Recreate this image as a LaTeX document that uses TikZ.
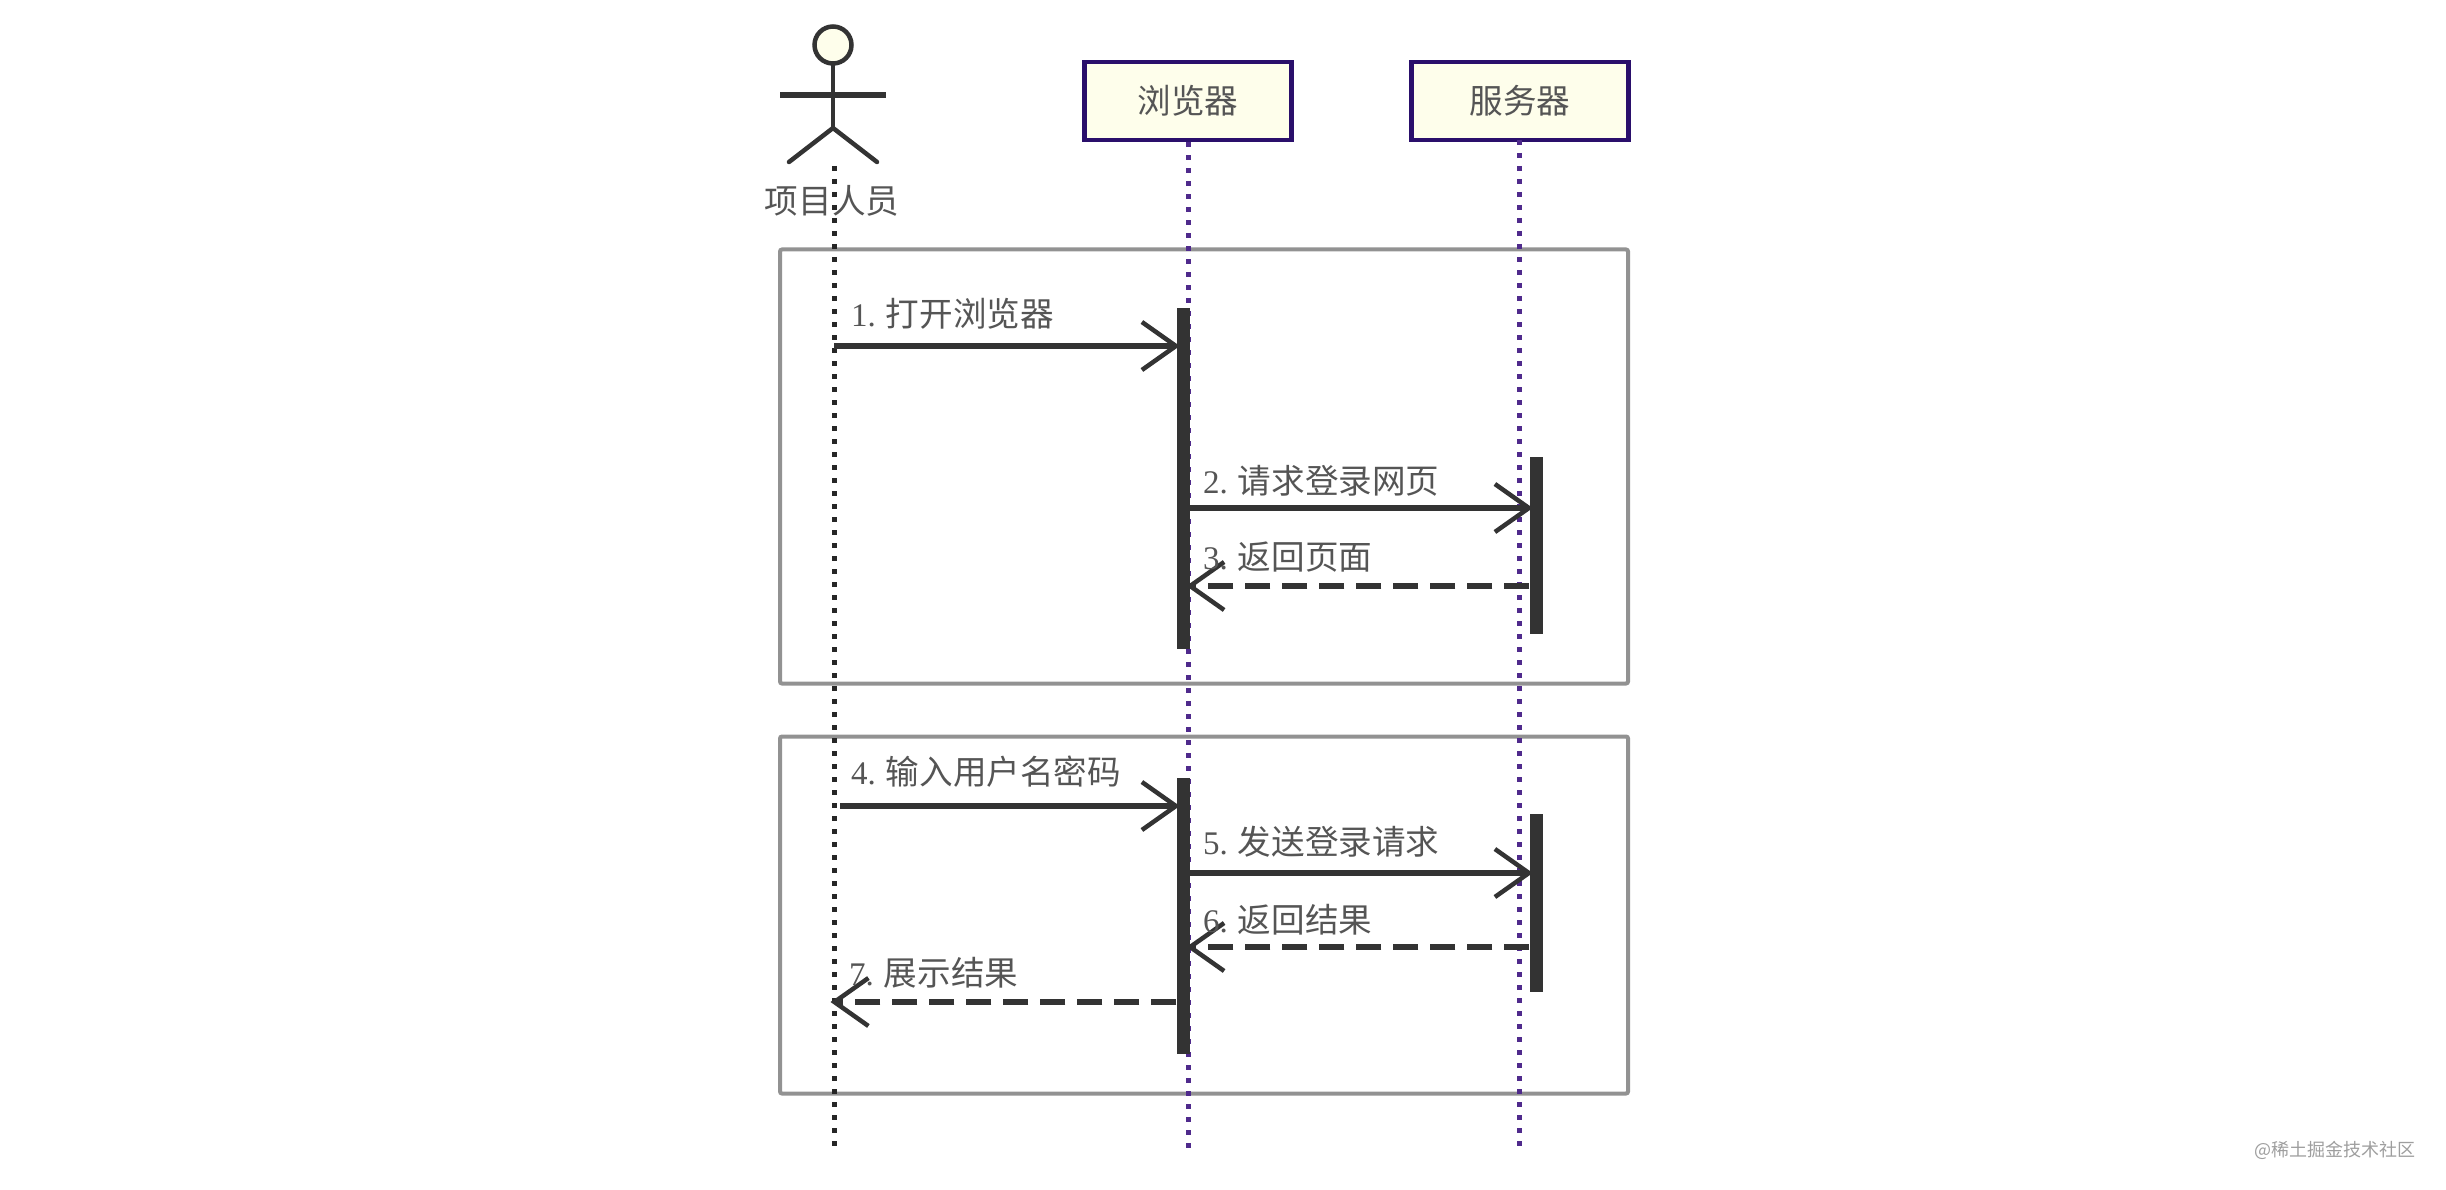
\documentclass[tikz,border=0pt]{standalone}
\usepackage{fontspec}
\usetikzlibrary{arrows.meta}
\setmainfont{Noto Sans CJK SC}
\newfontfamily\numfont{Liberation Serif}
\definecolor{inkdark}{HTML}{333333}
\definecolor{labelgrey}{HTML}{555555}
\definecolor{framegrey}{HTML}{929292}
\definecolor{boxpurple}{HTML}{2A0F6B}
\definecolor{linepurple}{HTML}{4F2A8C}
\definecolor{boxfill}{HTML}{FEFEEB}
\newcommand{\stepnum}[1]{{\numfont\fontsize{33}{33}\selectfont #1}\hspace{10pt}}
\tikzset{
  x=1pt, y=-1pt,
  every node/.style={font=\fontsize{33.6}{34}\selectfont, text=labelgrey, inner sep=0pt},
  participant/.style={draw=boxpurple, line width=4.5pt, fill=boxfill, minimum height=78pt},
  framebox/.style={draw=framegrey, line width=4pt, rounded corners=2pt},
  lifeline/.style={line width=5pt, dash pattern=on 5pt off 8pt, draw=linepurple},
  actorline/.style={line width=4.5pt, draw=inkdark, line cap=round},
  actbar/.style={fill=inkdark, draw=none, minimum width=13pt},
  msg/.style={line width=5.5pt, draw=inkdark, shorten >=-3.5pt, -{Straight Barb[length=34pt,width=48pt,line width=4.5pt]}},
  reply/.style={msg, dash pattern=on 25pt off 12pt},
  steplabel/.style={anchor=west},
}
\begin{document}
\begin{tikzpicture}
  \useasboundingbox (0,0) rectangle (2446,1190);

  % combined fragments behind everything else
  \draw[framebox] (780,249.5) rectangle (1628,683.5);
  \draw[framebox] (780,736.5) rectangle (1628,1093.5);

  % participants
  \node[participant, minimum width=207pt] (browser) at (1188,101) {浏览器};
  \node[participant, minimum width=217pt] (server) at (1520,101) {服务器};

  % stick figure
  \node[draw=inkdark, line width=4.5pt, fill=boxfill, circle, minimum size=37pt] (head) at (833,45) {};
  \coordinate (arml) at (780,95);
  \coordinate (armr) at (886,95);
  \coordinate (hip) at (833,128);
  \coordinate (legl) at (789,162);
  \coordinate (legr) at (877,162);
  \draw[actorline] (head.south) -- (hip);
  \draw[actorline, line width=5.5pt, line cap=butt] (arml) -- (armr);
  \draw[actorline] (legl) -- (hip) -- (legr);
  \node (actorname) at (832,201) {项目人员};

  % lifelines
  \coordinate (actortop) at (834,166);
  \coordinate (actorend) at (834,1150);
  \coordinate (browserend) at (browser.south |- actorend);
  \coordinate (serverend) at (1519,1150);
  \coordinate (servertop) at (1519,140);
  \draw[lifeline, draw=black!85] (actortop) -- (actorend);
  \draw[lifeline] (browser.south) -- (browserend);
  \draw[lifeline] (servertop) -- (serverend);

  % activation bars
  \node[actbar, minimum height=341pt] (barA) at (1183,478.5) {};
  \node[actbar, minimum height=177pt] (barB) at (1536,545) {};
  \node[actbar, minimum height=276pt] (barC) at (1183,916) {};
  \node[actbar, minimum height=178pt] (barD) at (1536,903) {};

  % message rows
  \coordinate (row1) at (0,346);
  \coordinate (row2) at (0,508);
  \coordinate (row3) at (0,586);
  \coordinate (row4) at (0,806);
  \coordinate (row5) at (0,873);
  \coordinate (row6) at (0,947);
  \coordinate (row7) at (0,1002);
  \coordinate (start4) at (840,806);

  % messages
  \draw[msg] (actortop |- row1) -- (barA.west |- row1);
  \draw[msg] (barA.east |- row2) -- (barB.west |- row2);
  \draw[reply] (barB.west |- row3) -- (barA.east |- row3);
  \draw[msg] (start4) -- (barC.west |- row4);
  \draw[msg] (barC.east |- row5) -- (barD.west |- row5);
  \draw[reply] (barD.west |- row6) -- (barC.east |- row6);
  \draw[reply] (barC.west |- row7) -- (actortop |- row7);

  % message labels
  \node[steplabel] (t1) at (851,314) {\stepnum{1.}打开浏览器};
  \node[steplabel] (t2) at (1203,481) {\stepnum{2.}请求登录网页};
  \node[steplabel] (t3) at (1203,557) {\stepnum{3.}返回页面};
  \node[steplabel] (t4) at (851,772) {\stepnum{4.}输入用户名密码};
  \node[steplabel] (t5) at (1203,842) {\stepnum{5.}发送登录请求};
  \node[steplabel] (t6) at (1203,920) {\stepnum{6.}返回结果};
  \node[steplabel] (t7) at (849,973) {\stepnum{7.}展示结果};

  % site credit
  \node[anchor=east, text=black!38, font=\fontsize{18}{18}\selectfont] (credit) at (2416,1150) {@稀土掘金技术社区};
\end{tikzpicture}
\end{document}
